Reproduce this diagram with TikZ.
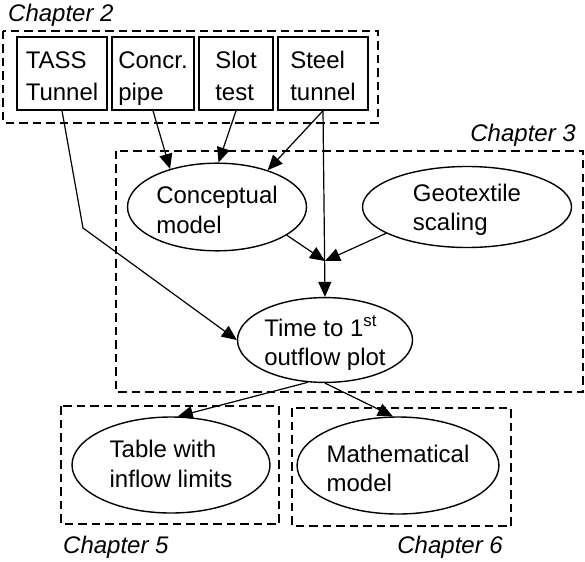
\documentclass[tikz,border=0pt]{standalone}
\usepackage{fontspec}
\setmainfont{Liberation Sans}
\usetikzlibrary{shapes.geometric,arrows.meta}
\newcommand\twoln[4]{\rule{0pt}{#1pt}#3\\[#2pt]\vphantom{p}#4}
\begin{document}
\begin{tikzpicture}[x=1pt,y=-1pt,
  font=\fontsize{24}{30}\selectfont,
  chapbox/.style={line width=2.5pt, dash pattern=on 8.5pt off 5pt},
  chaplabel/.style={font=\fontsize{24}{29}\selectfont\itshape, inner sep=0pt},
  srcbox/.style={draw, line width=1.5pt, rectangle, minimum height=73pt, inner sep=0pt, align=left},
  bubble/.style={draw, line width=1.4pt, ellipse, inner sep=0pt, align=left},
  arr/.style={line width=1.2pt, -{Triangle[length=15pt,width=13pt]}}]
\useasboundingbox (0,0) rectangle (585,561);
% chapter frames
\draw[chapbox] (3,31) rectangle (378,123);
\draw[chapbox] (116,151) rectangle (583,392);
\draw[chapbox] (61,406) rectangle (279,524);
\draw[chapbox] (292,408) rectangle (511,526);
\node[chaplabel, anchor=base west] (l2) at (8,22) {Chapter 2};
\node[chaplabel, anchor=base east] (l3) at (576,142) {Chapter 3};
\node[chaplabel, anchor=base west] (l5) at (63,553) {Chapter 5};
\node[chaplabel, anchor=base east] (l6) at (503,553) {Chapter 6};
% source boxes
\node[srcbox, minimum width=90pt] (tass) at (62,73.5) {\twoln{26}{2}{TASS}{Tunnel}};
\node[srcbox, minimum width=82pt] (concr) at (153,73.5) {\twoln{26}{2}{Concr.}{pipe}};
\node[srcbox, minimum width=74pt] (slot) at (236,73.5) {\twoln{26}{2}{Slot}{test}};
\node[srcbox, minimum width=90pt] (steel) at (323,73.5) {\twoln{26}{2}{Steel}{tunnel}};
% ellipses
\node[bubble, minimum width=179pt, minimum height=80pt] (concept) at (217,207) {\twoln{27}{0}{Conceptual}{model}};
\node[bubble, minimum width=209pt, minimum height=81pt] (geo) at (467,207) {\twoln{22}{-1}{Geotextile}{scaling}};
\node[bubble, minimum width=175pt, minimum height=80pt] (time) at (325,340) {\twoln{26}{-1}{Time to 1\textsuperscript{st}}{outflow plot}};
\node[bubble, minimum width=198pt, minimum height=96pt] (table) at (171,465) {\twoln{19}{0}{Table with}{inflow limits}};
\node[bubble, minimum width=200pt, minimum height=97pt] (math) at (398,465.5) {\twoln{27}{-1}{Mathematical}{model}};
% connectors
\coordinate (bend) at (83,228);
\coordinate (j) at (325,261);
\draw[arr] (tass.south) -- (bend) -- (time.west);
\draw[arr] (concr.south) -- (concept.141);
\draw[arr] (slot.south) -- (concept.88);
\draw[arr] (steel.south) -- (concept.36);
\draw[arr] (steel.south) -- (time.north);
\draw[arr] (concept.-22) -- (j);
\draw[arr] (geo.198) -- (j);
\draw[arr] (time.248) -- (table.82);
\draw[arr] (time.south) -- (math.96);
\end{tikzpicture}
\end{document}
